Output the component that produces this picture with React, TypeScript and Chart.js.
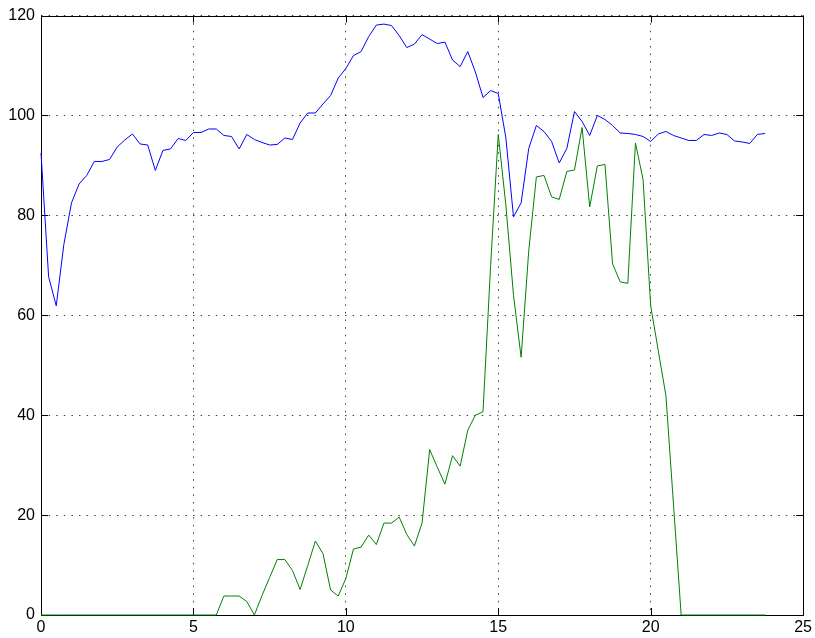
import React, { useEffect, useRef } from "react";
import { Chart, registerables } from "chart.js";

Chart.register(...registerables);

const xValues = [
  0, 0.25, 0.5, 0.75, 1, 1.25, 1.5, 1.75, 2, 2.25, 2.5, 2.75, 3, 3.25, 3.5, 3.75,
  4, 4.25, 4.5, 4.75, 5, 5.25, 5.5, 5.75, 6, 6.25, 6.5, 6.75, 7, 7.25, 7.5, 7.75,
  8, 8.25, 8.5, 8.75, 9, 9.25, 9.5, 9.75, 10, 10.25, 10.5, 10.75, 11, 11.25, 11.5, 11.75,
  12, 12.25, 12.5, 12.75, 13, 13.25, 13.5, 13.75, 14, 14.25, 14.5, 14.75, 15, 15.25, 15.5, 15.75,
  16, 16.25, 16.5, 16.75, 17, 17.25, 17.5, 17.75, 18, 18.25, 18.5, 18.75, 19, 19.25, 19.5, 19.75,
  20, 20.25, 20.5, 20.75, 21, 21.25, 21.5, 21.75, 22, 22.25, 22.5, 22.75, 23, 23.25, 23.5, 23.75,
];

const blueSeries = [
  92.5, 67.7, 61.9, 74.2, 82.5, 86.3, 88.0, 90.8, 90.8, 91.2, 93.7, 95.1, 96.3, 94.3, 94.1, 89.0,
  93.0, 93.3, 95.4, 95.0, 96.6, 96.6, 97.3, 97.3, 96.0, 95.8, 93.3, 96.2, 95.2, 94.6, 94.1, 94.2,
  95.5, 95.2, 98.5, 100.5, 100.5, 102.3, 104.0, 107.5, 109.4, 112.0, 112.8, 115.8, 118.1, 118.3, 118.0, 116.0,
  113.6, 114.3, 116.2, 115.3, 114.4, 114.7, 111.1, 109.8, 112.8, 108.7, 103.6, 105.0, 104.4, 95.5, 79.7, 82.5,
  93.4, 98.0, 96.8, 94.8, 90.5, 93.4, 100.8, 98.8, 96.0, 100.0, 99.2, 98.0, 96.5, 96.4, 96.2, 95.8,
  94.8, 96.3, 96.8, 96.0, 95.5, 95.0, 95.0, 96.2, 96.0, 96.5, 96.2, 94.9, 94.7, 94.4, 96.2, 96.4,
];

const greenSeries = [
  0, 0, 0, 0, 0, 0, 0, 0, 0, 0, 0, 0, 0, 0, 0, 0,
  0, 0, 0, 0, 0, 0, 0, 0, 3.8, 3.8, 3.8, 2.7, 0, 3.9, 7.5, 11.1,
  11.1, 8.9, 5.1, 9.9, 14.8, 12.3, 5.0, 3.8, 7.3, 13.2, 13.6, 16.0, 14.1, 18.4, 18.4, 19.6,
  16.1, 13.8, 18.4, 33.1, 29.6, 26.2, 31.9, 29.8, 37.0, 40.0, 40.7, 70.0, 96.2, 82.0, 64.0, 51.6,
  72.9, 87.7, 88.0, 83.7, 83.2, 88.8, 89.1, 97.6, 81.7, 89.9, 90.2, 70.3, 66.7, 66.4, 94.5, 87.2,
  61.9, 52.9, 43.9, 22.0, 0, 0, 0, 0, 0, 0, 0, 0, 0, 0, 0, 0,
];

const xTicks = [0, 5, 10, 15, 20, 25];
const yTicks = [0, 20, 40, 60, 80, 100, 120];

const boxPlugin = {
  id: "matlabBox",
  beforeDatasetsDraw(chart: any) {
    const { ctx, chartArea: a, scales } = chart;
    const tl = 7;
    ctx.save();
    ctx.strokeStyle = "#000";
    ctx.lineWidth = 1;
    ctx.beginPath();
    for (const v of xTicks) {
      const px = Math.round(scales.x.getPixelForValue(v)) + 0.5;
      ctx.moveTo(px, a.bottom);
      ctx.lineTo(px, a.bottom - tl);
      ctx.moveTo(px, a.top);
      ctx.lineTo(px, a.top + tl);
    }
    for (const v of yTicks) {
      const py = Math.round(scales.y.getPixelForValue(v)) + 0.5;
      ctx.moveTo(a.left, py);
      ctx.lineTo(a.left + tl, py);
      ctx.moveTo(a.right, py);
      ctx.lineTo(a.right - tl, py);
    }
    ctx.stroke();
    ctx.strokeRect(
      Math.round(a.left) + 0.5,
      Math.round(a.top) + 0.5,
      Math.round(a.right - a.left),
      Math.round(a.bottom - a.top)
    );
    ctx.restore();
  },
};

export default function App() {
  const ref = useRef<HTMLCanvasElement | null>(null);
  useEffect(() => {
    document.body.style.margin = "0";
    const canvas = ref.current;
    if (!canvas) return;
    const font = { family: "'Liberation Sans', Arial, Helvetica, sans-serif", size: 16 };
    const chart = new Chart(canvas, {
      type: "line",
      data: {
        datasets: [
          {
            data: xValues.map((x, i) => ({ x, y: blueSeries[i] })),
            borderColor: "#0000ff",
            borderWidth: 1,
            pointRadius: 0,
            fill: false,
            tension: 0,
            clip: 4,
          },
          {
            data: xValues.map((x, i) => ({ x, y: greenSeries[i] })),
            borderColor: "#008000",
            borderWidth: 1,
            pointRadius: 0,
            fill: false,
            tension: 0,
            clip: 4,
          },
        ],
      },
      options: {
        animation: false,
        responsive: false,
        devicePixelRatio: 1,
        layout: { padding: { top: 14, right: 10, left: 0, bottom: 0 } },
        plugins: { legend: { display: false }, tooltip: { enabled: false } },
        scales: {
          x: {
            type: "linear",
            min: 0,
            max: 25,
            afterBuildTicks: (s: any) => {
              s.ticks = xTicks.map((v) => ({ value: v }));
            },
            afterFit: (s: any) => {
              s.height = 23;
            },
            ticks: { color: "#000", font, padding: 3, maxRotation: 0, autoSkip: false },
            grid: { color: "rgba(0,0,0,0.75)", lineWidth: 1, drawTicks: false },
            border: { display: false, dash: [1.5, 6.1] },
          },
          y: {
            type: "linear",
            min: 0,
            max: 120,
            afterBuildTicks: (s: any) => {
              s.ticks = yTicks.map((v) => ({ value: v }));
            },
            afterFit: (s: any) => {
              s.width = 41;
            },
            ticks: { color: "#000", font, padding: 6, autoSkip: false },
            grid: { color: "rgba(0,0,0,0.75)", lineWidth: 1, drawTicks: false },
            border: { display: false, dash: [1.5, 6.1] },
          },
        },
      },
      plugins: [boxPlugin],
    });
    return () => chart.destroy();
  }, []);
  return <canvas ref={ref} width={815} height={638} style={{ display: "block" }} />;
}
